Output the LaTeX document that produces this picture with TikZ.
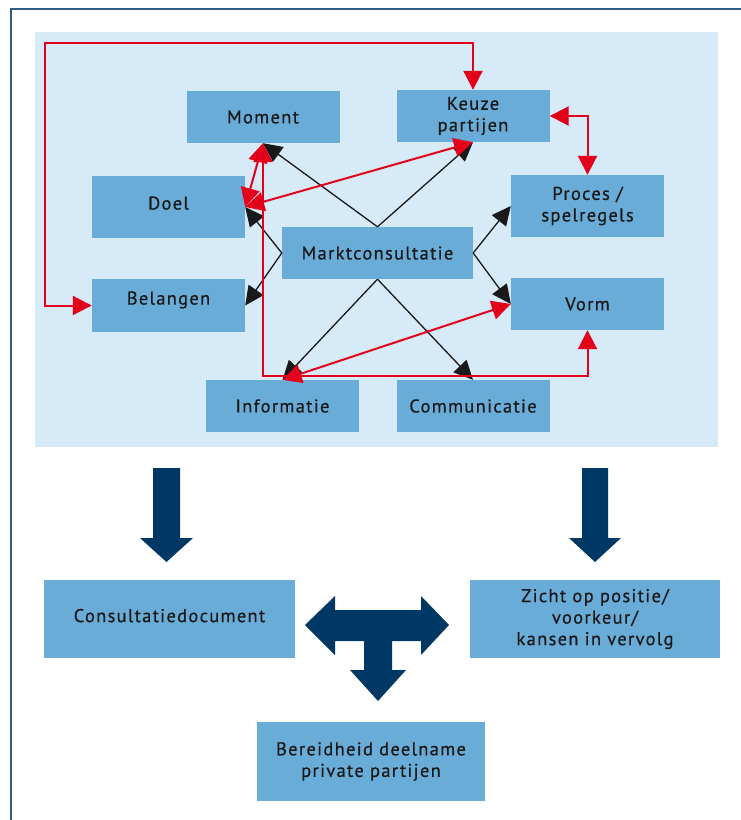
\documentclass[tikz,border=0pt]{standalone}
\usepackage{fontspec}
\setmainfont{PT Sans}[LetterSpace=7, FakeBold=0.5]
\usetikzlibrary{arrows.meta}

\definecolor{panel}{RGB}{214,234,248}
\definecolor{boxblue}{RGB}{106,172,216}
\definecolor{navy}{RGB}{0,56,101}
\definecolor{linkred}{RGB}{226,0,26}
\definecolor{frameblue}{RGB}{50,90,130}
\definecolor{ink}{RGB}{25,25,25}

\begin{document}
\begin{tikzpicture}[x=1pt,y=-1pt,
  box/.style={fill=boxblue, draw=none, inner sep=0pt, align=center, text=ink,
    font=\fontsize{18.5}{21.5}\selectfont},
  small/.style={box, minimum width=153pt, minimum height=52pt},
  tall/.style={box, minimum width=153pt, minimum height=62pt},
  wide/.style={box, minimum width=250pt, minimum height=78pt},
  blk/.style={draw=ink, line width=1.3pt, -{Triangle[length=19pt,width=18pt]}},
  rd/.style={draw=linkred, line width=2pt,
    {Triangle[length=19pt,width=19pt]}-{Triangle[length=19pt,width=19pt]}},
  bigarrow/.style={fill=navy, draw=none}]

\useasboundingbox (0,0) rectangle (741,820);
\fill[white] (0,0) rectangle (741,820);

% frame and panel
\draw[frameblue, line width=1.5pt] (11,820) -- (11,9) -- (741,9);
\fill[panel] (35,32) rectangle (718,447);

% aspects around the market consultation
\node[small] (moment) at (263,117) {Moment};
\node[small] (keuze) at (473,116) {Keuze\\partijen};
\node[tall, text depth=8pt] (doel) at (168.5,207) {Doel};
\node[tall] (proces) at (587.5,206) {Proces /\\spelregels};
\node[box, minimum width=191pt, minimum height=52pt] (markt) at (377.5,253) {Marktconsultatie};
\node[box, minimum width=153pt, minimum height=53pt, text depth=15pt] (belangen) at (168.5,305.5) {Belangen};
\node[small] (vorm) at (587.5,304) {Vorm};
\node[small] (info) at (282.5,406) {Informatie};
\node[small] (comm) at (473,406) {Communicatie};

% outcomes
\node[wide, minimum width=251pt, text depth=7pt] (consult) at (169.5,619) {Consultatiedocument};
\node[wide] (zicht) at (595,619) {Zicht op positie/\\voorkeur/\\kansen in vervolg};
\node[box, minimum width=228pt, minimum height=79pt] (bereid) at (371,761.5) {Bereidheid deelname\\private partijen};

% black arrows from the market consultation
\draw[blk] (markt.north) -- (moment.south);
\draw[blk] (markt.north) -- (keuze.south);
\draw[blk] (markt.west) -- (doel.east);
\draw[blk] (markt.west) -- (belangen.east);
\draw[blk] (markt.east) -- (proces.west);
\draw[blk] (markt.east) -- (vorm.west);
\draw[blk] (markt.south) -- (info.north);
\draw[blk] (markt.south) -- (comm.north);

% red relations
\coordinate (topleft) at (45,43);
\draw[rd] (belangen.west) -| (topleft) -| (keuze.north);
\draw[rd] (keuze.east) -| (proces.north);
\draw[rd] (moment.south) -- ++(0,233) -| (vorm.south);
\draw[rd] (moment.south) -- (doel.east);
\draw[rd] (keuze.south) -- (doel.east);
\draw[rd] (info.north) -- (vorm.west);

% block arrows
\fill[bigarrow] (153,468) -- (180,468) -- (180,538) -- (193,538) -- (166.5,562)
  -- (140,538) -- (153,538) -- cycle;
\fill[bigarrow] (582,468) -- (608,468) -- (608,538) -- (621,538) -- (595,562)
  -- (569,538) -- (582,538) -- cycle;
\fill[bigarrow] (305,625) -- (335,596) -- (335,610) -- (421,610) -- (421,596)
  -- (449,625) -- (421,655) -- (421,641) -- (392,641) -- (392,670) -- (406,670)
  -- (378,701) -- (350,670) -- (364,670) -- (364,641) -- (335,641) -- (335,655) -- cycle;
\end{tikzpicture}
\end{document}
